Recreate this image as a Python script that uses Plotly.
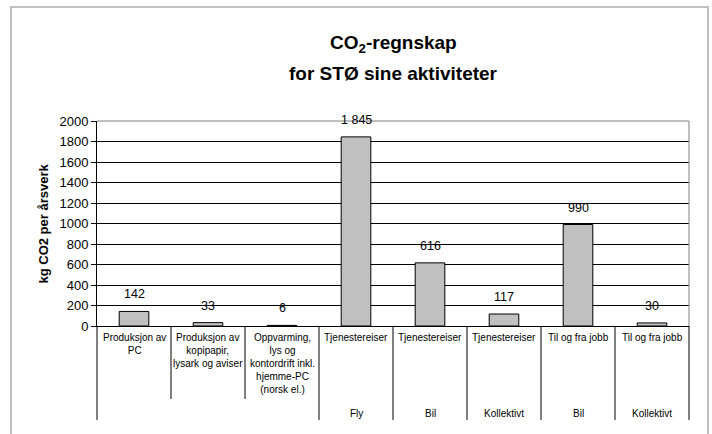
import plotly.graph_objects as go

# ---- data ----
top_labels = [
    "Produksjon av<br>PC",
    "Produksjon av<br>kopipapir,<br>lysark og aviser",
    "Oppvarming,<br>lys og<br>kontordrift inkl.<br>hjemme-PC<br>(norsk el.)",
    "Tjenestereiser",
    "Tjenestereiser",
    "Tjenestereiser",
    "Til og fra jobb",
    "Til og fra jobb",
]
sub_labels = ["", "", "", "Fly", "Bil", "Kollektivt", "Bil", "Kollektivt"]
values = [142, 33, 6, 1845, 616, 117, 990, 30]
y_ticks = list(range(0, 2001, 200))

FONT = "Liberation Sans, Arial, sans-serif"
W, H = 712, 434
L, R, T, B = 97, 23, 121, 108
PW, PH = W - L - R, H - T - B
n = len(values)
xs = list(range(n))


def px_x(px):
    return (px - L) / PW


def px_y(py):
    return (H - B - py) / PH


fig = go.Figure()
fig.add_trace(go.Bar(
    x=xs, y=values,
    marker=dict(color="#C0C0C0", line=dict(color="black", width=1)),
    hoverinfo="skip",
))

annotations = []
# data labels
for x, v in zip(xs, values):
    annotations.append(dict(
        x=x, y=v, xref="x", yref="y", text=f"{v:,}".replace(",", " "),
        showarrow=False, yanchor="bottom", yshift=8,
        font=dict(family=FONT, size=12.5, color="black"),
    ))
# category labels
for x, t, s in zip(xs, top_labels, sub_labels):
    annotations.append(dict(
        x=x, y=px_y(330), xref="x", yref="paper", text=t, showarrow=False,
        yanchor="top", xanchor="center", align="center",
        font=dict(family=FONT, size=10, color="black"),
    ))
    if s:
        annotations.append(dict(
            x=x, y=px_y(413), xref="x", yref="paper", text=s, showarrow=False,
            yanchor="middle", xanchor="center",
            font=dict(family=FONT, size=10, color="black"),
        ))
# titles
annotations.append(dict(
    x=0.5, xref="paper", y=px_y(44), yref="paper",
    xanchor="center", yanchor="middle", showarrow=False,
    text="<b>CO<sub>2</sub>-regnskap</b>",
    font=dict(family=FONT, size=19, color="black"),
))
annotations.append(dict(
    x=0.5, xref="paper", y=px_y(73), yref="paper",
    xanchor="center", yanchor="middle", showarrow=False,
    text="<b>for STØ sine aktiviteter</b>",
    font=dict(family=FONT, size=19, color="black"),
))
annotations.append(dict(
    x=px_x(43), xref="paper", y=0.5, yref="paper", textangle=-90,
    xanchor="center", yanchor="middle", showarrow=False,
    text="<b>kg CO2 per årsverk</b>",
    font=dict(family=FONT, size=13, color="black"),
))

shapes = []
# category dividers
for k in range(n + 1):
    left_sub = sub_labels[k - 1] if k > 0 else "x"
    right_sub = sub_labels[k] if k < n else "x"
    short = (left_sub == "" and right_sub == "")
    y_end = px_y(399) if short else px_y(420)
    shapes.append(dict(type="line", xref="paper", yref="paper",
                       x0=k / n, x1=k / n, y0=0, y1=y_end,
                       line=dict(color="black", width=1)))
# plot area grey border (top & right)
shapes.append(dict(type="line", xref="paper", yref="paper", x0=0, x1=1, y0=1, y1=1,
                   line=dict(color="#808080", width=1), layer="above"))
shapes.append(dict(type="line", xref="paper", yref="paper", x0=1, x1=1, y0=0, y1=1,
                   line=dict(color="#808080", width=1), layer="above"))
# outer chart frame
shapes.append(dict(type="rect", xref="paper", yref="paper",
                   x0=px_x(11), x1=px_x(708), y0=px_y(445), y1=px_y(7),
                   line=dict(color="#C0C0C0", width=2), layer="below"))

fig.update_layout(
    width=W, height=H,
    margin=dict(l=L, r=R, t=T, b=B, pad=0),
    paper_bgcolor="white", plot_bgcolor="white",
    showlegend=False,
    bargap=0.6,
    font=dict(family=FONT, color="black"),
    xaxis=dict(range=[-0.5, n - 0.5], showticklabels=False, showgrid=False,
               zeroline=False, showline=True, linecolor="black", linewidth=1,
               ticks="", fixedrange=True),
    yaxis=dict(range=[0, 2000], tickvals=y_ticks, showgrid=True,
               gridcolor="black", gridwidth=1, zeroline=False,
               showline=True, linecolor="black", linewidth=1,
               ticks="outside", ticklen=5, tickcolor="black", tickwidth=1,
               tickfont=dict(family=FONT, size=13, color="black"),
               fixedrange=True),
    annotations=annotations,
    shapes=shapes,
)

fig.write_html(
    "out.html",
    config={"displayModeBar": False},
    post_script="document.body.style.margin='0';document.body.style.overflow='hidden';",
)
